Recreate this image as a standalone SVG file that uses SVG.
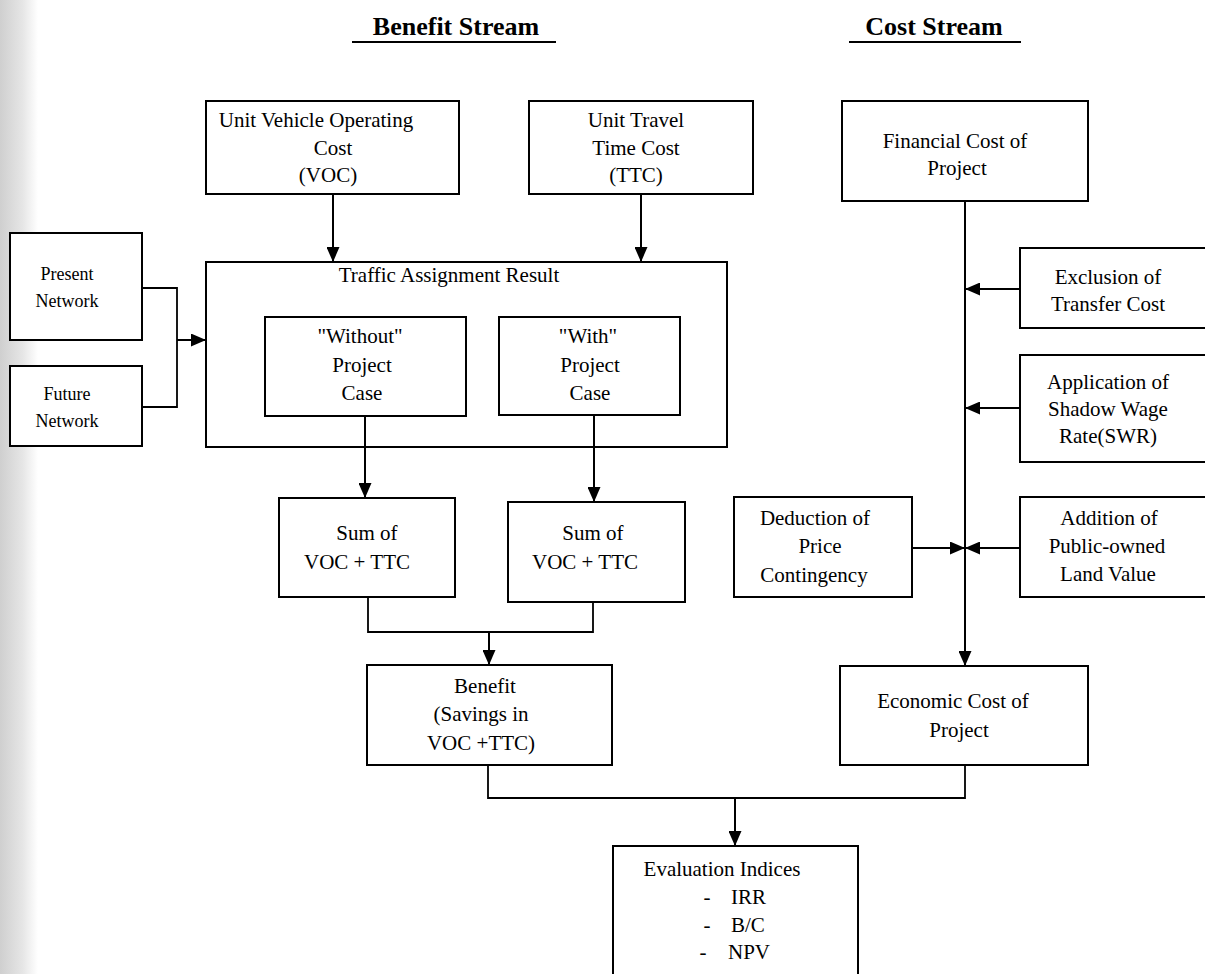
<svg xmlns="http://www.w3.org/2000/svg" width="1205" height="974" viewBox="0 0 1205 974">
<defs>
<marker id="ah" viewBox="0 0 15 13" refX="15" refY="6.5" markerWidth="15" markerHeight="13" markerUnits="userSpaceOnUse" orient="auto">
<path d="M0,0 L15,6.5 L0,13 z" fill="#000"/>
</marker>
<linearGradient id="scan" x1="0" y1="0" x2="1" y2="0">
<stop offset="0" stop-color="#cfcfcf"/>
<stop offset="0.6" stop-color="#e6e6e6"/>
<stop offset="1" stop-color="#ffffff"/>
</linearGradient>
</defs>
<style>
.box{fill:#fff;stroke:#000;stroke-width:2}
.t{font-family:"Liberation Serif","Times New Roman",serif;font-size:21px;fill:#000;text-anchor:middle}
.s{font-size:18px}
.l{text-anchor:start}
.h{font-family:"Liberation Serif","Times New Roman",serif;font-size:26px;font-weight:bold;fill:#000;text-anchor:middle}
.c{fill:none;stroke:#000;stroke-width:1.8}
.ca{fill:none;stroke:#000;stroke-width:2;marker-end:url(#ah)}
</style>
<rect x="0" y="0" width="1205" height="974" fill="#fff"/>
<rect x="0" y="0" width="38" height="974" fill="url(#scan)"/>

<g id="headers">
<text class="h" x="456" y="35">Benefit Stream</text>
<line x1="352" y1="42" x2="556" y2="42" stroke="#000" stroke-width="2"/>
<text class="h" x="934" y="35">Cost Stream</text>
<line x1="849" y1="42" x2="1021" y2="42" stroke="#000" stroke-width="2"/>
</g>

<g id="unit-voc">
<rect class="box" x="206" y="101" width="253" height="93"/>
<text class="t" x="316" y="127">Unit Vehicle Operating</text>
<text class="t" x="333" y="155">Cost</text>
<text class="t" x="328" y="182">(VOC)</text>
</g>
<g id="unit-ttc">
<rect class="box" x="529" y="101" width="224" height="93"/>
<text class="t" x="636" y="127">Unit Travel</text>
<text class="t" x="636" y="155">Time Cost</text>
<text class="t" x="636" y="182">(TTC)</text>
</g>
<g id="financial-cost">
<rect class="box" x="842" y="101" width="246" height="100"/>
<text class="t" x="955" y="148">Financial Cost of</text>
<text class="t" x="957" y="175">Project</text>
</g>

<g id="present-network">
<rect class="box" x="10" y="233" width="132" height="107"/>
<text class="t s" x="67" y="280">Present</text>
<text class="t s" x="67" y="307">Network</text>
</g>
<g id="future-network">
<rect class="box" x="10" y="366" width="132" height="80"/>
<text class="t s" x="67" y="400">Future</text>
<text class="t s" x="67" y="427">Network</text>
</g>

<g id="traffic-assignment">
<rect class="box" x="206" y="262" width="521" height="185"/>
<text class="t" x="449" y="282">Traffic Assignment Result</text>
</g>
<g id="without-case">
<rect class="box" x="265" y="317" width="201" height="99"/>
<text class="t" x="360" y="343">"Without"</text>
<text class="t" x="362" y="372">Project</text>
<text class="t" x="362" y="400">Case</text>
</g>
<g id="with-case">
<rect class="box" x="499" y="317" width="181" height="98"/>
<text class="t" x="588" y="343">"With"</text>
<text class="t" x="590" y="372">Project</text>
<text class="t" x="590" y="400">Case</text>
</g>

<g id="exclusion-transfer">
<rect class="box" x="1020" y="248" width="190" height="80"/>
<text class="t" x="1108" y="284">Exclusion of</text>
<text class="t" x="1108" y="311">Transfer Cost</text>
</g>
<g id="shadow-wage">
<rect class="box" x="1020" y="355" width="190" height="107"/>
<text class="t" x="1108" y="389">Application of</text>
<text class="t" x="1108" y="416">Shadow Wage</text>
<text class="t" x="1108" y="443">Rate(SWR)</text>
</g>

<g id="sum-without">
<rect class="box" x="279" y="498" width="176" height="99"/>
<text class="t" x="367" y="540">Sum of</text>
<text class="t" x="357" y="569">VOC + TTC</text>
</g>
<g id="sum-with">
<rect class="box" x="508" y="502" width="177" height="100"/>
<text class="t" x="593" y="540">Sum of</text>
<text class="t" x="585" y="569">VOC + TTC</text>
</g>
<g id="price-contingency">
<rect class="box" x="734" y="497" width="178" height="100"/>
<text class="t" x="815" y="525">Deduction of</text>
<text class="t" x="820" y="553">Price</text>
<text class="t" x="814" y="582">Contingency</text>
</g>
<g id="land-value">
<rect class="box" x="1020" y="497" width="190" height="100"/>
<text class="t" x="1109" y="525">Addition of</text>
<text class="t" x="1107" y="553">Public-owned</text>
<text class="t" x="1108" y="581">Land Value</text>
</g>

<g id="benefit">
<rect class="box" x="367" y="665" width="245" height="100"/>
<text class="t" x="485" y="693">Benefit</text>
<text class="t" x="481" y="721">(Savings in</text>
<text class="t" x="481" y="750">VOC +TTC)</text>
</g>
<g id="economic-cost">
<rect class="box" x="840" y="666" width="248" height="99"/>
<text class="t" x="953" y="708">Economic Cost of</text>
<text class="t" x="959" y="737">Project</text>
</g>

<g id="evaluation-indices">
<rect class="box" x="613" y="846" width="245" height="140"/>
<text class="t" x="722" y="876">Evaluation Indices</text>
<text class="t" x="707" y="904">-</text>
<text class="t l" x="731" y="904">IRR</text>
<text class="t" x="707" y="932">-</text>
<text class="t l" x="731" y="932">B/C</text>
<text class="t" x="703" y="959">-</text>
<text class="t l" x="728" y="959">NPV</text>
</g>

<g id="connectors">
<line class="ca" x1="333" y1="194" x2="333" y2="262"/>
<line class="ca" x1="641" y1="194" x2="641" y2="262"/>
<polyline class="c" points="142,288 177,288 177,407 142,407"/>
<line class="ca" x1="177" y1="340" x2="206" y2="340"/>
<line class="ca" x1="365" y1="416" x2="365" y2="498"/>
<line class="ca" x1="594" y1="415" x2="594" y2="502"/>
<polyline class="c" points="368,597 368,632 593,632 593,602"/>
<line class="ca" x1="489" y1="632" x2="489" y2="665"/>
<line class="ca" x1="965" y1="201" x2="965" y2="666"/>
<line class="ca" x1="1020" y1="289" x2="965" y2="289"/>
<line class="ca" x1="1020" y1="408" x2="965" y2="408"/>
<line class="ca" x1="1020" y1="548" x2="965" y2="548"/>
<line class="ca" x1="912" y1="548" x2="965" y2="548"/>
<polyline class="c" points="488,765 488,798 965,798 965,765"/>
<line class="ca" x1="735" y1="798" x2="735" y2="846"/>
</g>
</svg>
